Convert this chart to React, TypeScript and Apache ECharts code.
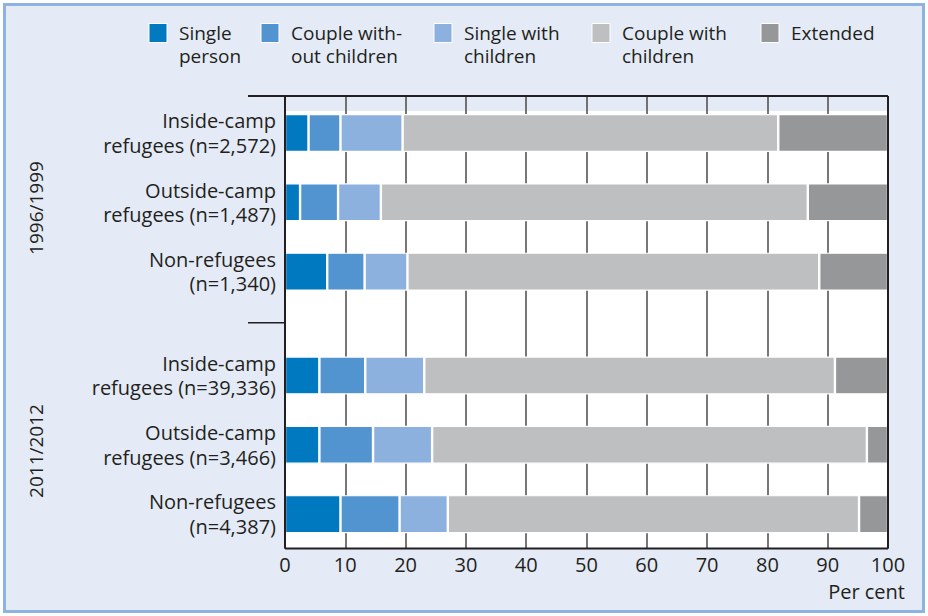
import React, { useEffect, useRef } from "react";
import * as echarts from "echarts";

const seriesNames = [
  "Single person",
  "Couple without children",
  "Single with children",
  "Couple with children",
  "Extended",
];
const legendLabels = [
  "Single\nperson",
  "Couple with-\nout children",
  "Single with\nchildren",
  "Couple with\nchildren",
  "Extended",
];
const colors = ["#0079c1", "#5294d0", "#8db1de", "#bebfc1", "#969798"];

const periods = ["1996/1999", "2011/2012"];
const categories1 = [
  "Inside-camp\nrefugees (n=2,572)",
  "Outside-camp\nrefugees (n=1,487)",
  "Non-refugees\n(n=1,340)",
];
const categories2 = [
  "Inside-camp\nrefugees (n=39,336)",
  "Outside-camp\nrefugees (n=3,466)",
  "Non-refugees\n(n=4,387)",
];

// 1996/1999 values (per cent), per series, in category order
const singlePerson1 = [3.9, 2.5, 7.0];
const coupleWithout1 = [5.3, 6.3, 6.2];
const singleWith1 = [10.3, 7.1, 7.1];
const coupleWith1 = [62.3, 70.8, 68.3];
const extended1 = [18.2, 13.3, 11.4];

// 2011/2012 values (per cent)
const singlePerson2 = [5.7, 5.7, 9.2];
const coupleWithout2 = [7.6, 8.9, 9.8];
const singleWith2 = [9.8, 9.8, 8.0];
const coupleWith2 = [68.1, 72.1, 68.2];
const extended2 = [8.8, 3.5, 4.8];

const xTicks = { min: 0, max: 100, interval: 10 };
const xName = "Per cent";

const FONT = "'Open Sans', 'Noto Sans', sans-serif";
const FS = 20;
const TEXT = "#231f20";

export default function App() {
  const ref = useRef<HTMLDivElement>(null);

  useEffect(() => {
    document.body.style.margin = "0";
    if (!ref.current) return;
    const chart = echarts.init(ref.current, null, { renderer: "svg" });

    const data1 = [singlePerson1, coupleWithout1, singleWith1, coupleWith1, extended1];
    const data2 = [singlePerson2, coupleWithout2, singleWith2, coupleWith2, extended2];

    const left = 285;
    const right = 40;
    const plotRight = 928 - right;
    const g1Top = 98.3;
    const g2Top = 340.8;
    const gH = 208;
    const frameTop = 96;
    const frameBottom = 548.5;

    const mkSeries = (data: number[][], gi: number) =>
      data.map((vals, i) => ({
        name: seriesNames[i],
        type: "bar",
        stack: "s" + gi,
        xAxisIndex: gi,
        yAxisIndex: gi,
        barWidth: 38,
        data: vals,
        itemStyle: { color: colors[i], borderColor: "#ffffff", borderWidth: 1.2 },
        z: 3,
      }));

    const legendGraphics: any[] = [];
    const legendX = [149, 261, 434, 592, 761];
    legendLabels.forEach((lab, i) => {
      legendGraphics.push({
        type: "rect",
        shape: { x: legendX[i], y: 23.5, width: 18, height: 19 },
        style: { fill: colors[i], stroke: "#ffffff", lineWidth: 1 },
        z: 5,
      });
      legendGraphics.push({
        type: "text",
        x: legendX[i] + 30,
        y: 21,
        style: {
          text: lab,
          font: `19px ${FONT}`,
          lineHeight: 23.5,
          fill: TEXT,
          verticalAlign: "top",
          align: "left",
        },
        z: 5,
      });
    });

    const lineStyle = { stroke: "#231f20", lineWidth: 2 };
    const yLabel = { fontSize: FS, color: TEXT, lineHeight: 24.5, margin: 9, align: "right", fontFamily: FONT };

    const option: any = {
      animation: false,
      backgroundColor: "transparent",
      textStyle: { fontFamily: FONT },
      grid: [
        { left, right, top: g1Top, height: gH },
        { left, right, top: g2Top, height: gH },
        { left, right, top: frameTop, height: frameBottom - frameTop },
      ],
      xAxis: [
        { gridIndex: 0, type: "value", ...xTicks, show: false },
        { gridIndex: 1, type: "value", ...xTicks, show: false },
        {
          gridIndex: 2,
          type: "value",
          ...xTicks,
          axisLine: { show: false },
          axisTick: { show: false },
          splitLine: { show: true, lineStyle: { color: "#4a4a4a", width: 1.5 } },
          axisLabel: { fontSize: FS, color: TEXT, margin: 6, fontFamily: FONT },
        },
      ],
      yAxis: [
        {
          gridIndex: 0,
          type: "category",
          inverse: true,
          data: categories1,
          axisLine: { show: false },
          axisTick: { show: false },
          axisLabel: yLabel,
        },
        {
          gridIndex: 1,
          type: "category",
          inverse: true,
          data: categories2,
          axisLine: { show: false },
          axisTick: { show: false },
          axisLabel: yLabel,
        },
        { gridIndex: 2, type: "value", show: false },
      ],
      series: [...mkSeries(data1, 0), ...mkSeries(data2, 1)],
      graphic: [
        {
          type: "rect",
          shape: { x: 4.5, y: 4.5, width: 919, height: 607 },
          style: { fill: "#e4ebf6", stroke: "#8db3e2", lineWidth: 3 },
          z: -2,
        },
        {
          type: "rect",
          shape: { x: left, y: 111, width: plotRight - left, height: frameBottom - 111 },
          style: { fill: "#ffffff" },
          z: -1,
        },
        { type: "line", shape: { x1: 248, y1: frameTop, x2: plotRight, y2: frameTop }, style: lineStyle, z: 10 },
        { type: "line", shape: { x1: left, y1: frameTop, x2: left, y2: frameBottom }, style: lineStyle, z: 10 },
        { type: "line", shape: { x1: plotRight, y1: frameTop, x2: plotRight, y2: frameBottom }, style: lineStyle, z: 10 },
        { type: "line", shape: { x1: left, y1: frameBottom, x2: plotRight, y2: frameBottom }, style: lineStyle, z: 10 },
        { type: "line", shape: { x1: 248, y1: 322.7, x2: left, y2: 322.7 }, style: { stroke: "#231f20", lineWidth: 1.5 }, z: 10 },
        {
          type: "text",
          x: 36,
          y: 208,
          rotation: Math.PI / 2,
          style: { text: periods[0], font: `19px ${FONT}`, fill: TEXT, align: "center", verticalAlign: "middle" },
          z: 5,
        },
        {
          type: "text",
          x: 36,
          y: 451,
          rotation: Math.PI / 2,
          style: { text: periods[1], font: `19px ${FONT}`, fill: TEXT, align: "center", verticalAlign: "middle" },
          z: 5,
        },
        {
          type: "text",
          x: 905,
          y: 591,
          style: { text: xName, font: `${FS}px ${FONT}`, fill: TEXT, align: "right", verticalAlign: "middle" },
          z: 5,
        },
        ...legendGraphics,
      ],
    };

    chart.setOption(option);
    return () => chart.dispose();
  }, []);

  return (
    <div style={{ width: 928, height: 616, background: "#ffffff" }}>
      <div ref={ref} style={{ width: 928, height: 616 }} />
    </div>
  );
}
